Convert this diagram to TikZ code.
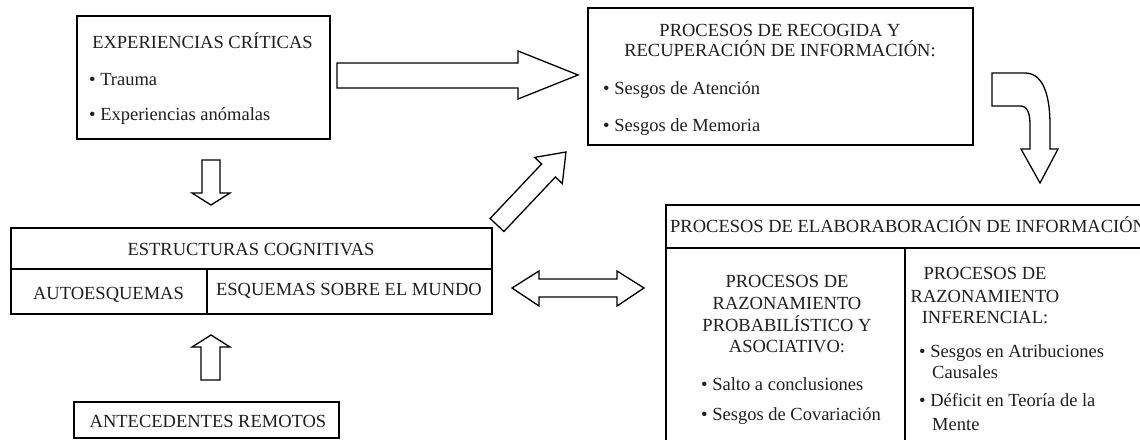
\documentclass[tikz,border=0pt]{standalone}
\usepackage{fontspec}
\setmainfont{Liberation Serif}
\newcommand{\fsz}{\fontsize{18.5pt}{22pt}\selectfont}
\begin{document}
\begin{tikzpicture}[x=1pt,y=-1pt,
  box/.style={draw, line width=1.5pt, inner sep=0pt, anchor=north west},
  blk/.style={draw, line width=1.3pt, line join=miter, fill=white},
  txt/.style={inner sep=0pt, font=\fsz, text=black!88},
  ctr/.style={txt, anchor=base},
  lft/.style={txt, anchor=base west}]
\useasboundingbox (0,0) rectangle (1140,439);
\fill[white] (0,0) rectangle (1140,439);
\clip (0,0) rectangle (1140,439);

% boxes
\node[box, minimum width=253pt, minimum height=123pt] (exp) at (76,15) {};
\node[box, minimum width=385pt, minimum height=137pt] (proc) at (587,7) {};
\node[box, minimum width=481pt, minimum height=86pt] (estr) at (10,227) {};
\node[box, minimum width=265pt, minimum height=36pt] (ant) at (73,401) {};
\node[box, minimum width=600pt, minimum height=300pt] (elab) at (665,204) {};

% dividers
\draw[line width=1.5pt] (10,269) -- (491,269);
\draw[line width=1.5pt] (207,269) -- (207,313);
\draw[line width=1.5pt] (665,248) -- (1150,248);
\draw[line width=1.5pt] (905,248) -- (905,450);

% texts
\node[ctr] (expt) at (202.5,48.3) {EXPERIENCIAS CRÍTICAS};
\node[lft] (exp1) at (89,85) {• Trauma};
\node[lft] (exp2) at (89,120.7) {• Experiencias anómalas};

\node[ctr] (proct1) at (780,36) {PROCESOS DE RECOGIDA Y};
\node[ctr] (proct2) at (780,56.7) {RECUPERACIÓN DE INFORMACIÓN:};
\node[lft] (proc1) at (603,94) {• Sesgos de Atención};
\node[lft] (proc2) at (603,131.7) {• Sesgos de Memoria};

\node[ctr] (estrt) at (251,255) {ESTRUCTURAS COGNITIVAS};
\node[ctr] (auto) at (108.5,299) {AUTOESQUEMAS};
\node[ctr] (mundo) at (349,295) {ESQUEMAS SOBRE EL MUNDO};

\node[ctr] (antt) at (208,427) {ANTECEDENTES REMOTOS};

\node[lft] (elabt) at (670,232) {PROCESOS DE ELABORABORACIÓN DE INFORMACIÓN};
\node[ctr] (l1) at (787,287) {PROCESOS DE};
\node[ctr] (l2) at (787,309) {RAZONAMIENTO};
\node[ctr] (l3) at (787,331) {PROBABILÍSTICO Y};
\node[ctr] (l4) at (787,352) {ASOCIATIVO:};
\node[lft] (l5) at (701,390) {• Salto a conclusiones};
\node[lft] (l6) at (701,420) {• Sesgos de Covariación};
\node[ctr] (r1) at (985,279) {PROCESOS DE};
\node[ctr] (r2) at (985,302) {RAZONAMIENTO};
\node[ctr] (r3) at (985,323) {INFERENCIAL:};
\node[lft] (r4) at (919,357) {• Sesgos en Atribuciones};
\node[lft] (r5) at (932,378) {Causales};
\node[lft] (r6) at (919,406) {• Déficit en Teoría de la};
\node[lft] (r7) at (932,430) {Mente};

% block arrows
\draw[blk] (337,63) -- (518,63) -- (518,51) -- (578,75) -- (518,99) -- (518,88) -- (337,88) -- cycle;
\draw[blk] (202,160) -- (220,160) -- (220,193) -- (230,193) -- (211,205) -- (192,193) -- (202,193) -- cycle;
\draw[blk] (201,380) -- (201,347) -- (192,347) -- (211,335) -- (230,347) -- (220,347) -- (220,380) -- cycle;
\draw[blk] (512,288) -- (539,271) -- (539,279) -- (617,279) -- (617,271) -- (644,288) -- (617,306) -- (617,297) -- (539,297) -- (539,306) -- cycle;
\draw[blk] (503.9,231.5) -- (555.4,177.0) -- (562.3,183.6) -- (566,152) -- (534.7,157.4) -- (541.6,164.0) -- (490.1,218.5) -- cycle;
\draw[blk] (992,73) -- (1025,73) .. controls (1043,73) and (1050,95) .. (1050,125) -- (1050,149) -- (1058,149) -- (1040,183) -- (1021,149) -- (1030,149) -- (1030,125) .. controls (1030,112) and (1027,106) .. (1020,106) -- (992,106) -- cycle;
\end{tikzpicture}
\end{document}
